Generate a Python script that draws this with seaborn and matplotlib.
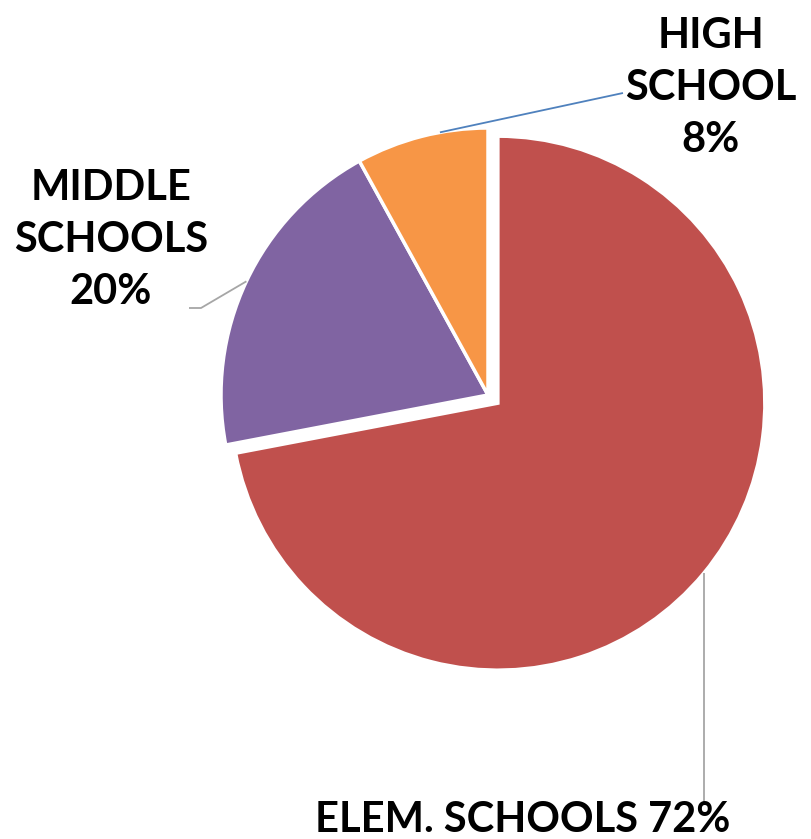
import numpy as np
import matplotlib
matplotlib.use("Agg")
import matplotlib.pyplot as plt
import seaborn as sns

# ---- data ----
categories = ["ELEM. SCHOOLS", "MIDDLE SCHOOLS", "HIGH SCHOOL"]
label_text = ["ELEM. SCHOOLS 72%", "MIDDLE\nSCHOOLS\n20%", "HIGH\nSCHOOL\n8%"]
values = [72, 20, 8]
colors = ["#C0504D", "#8064A2", "#F79646"]
leader_colors = ["#A6A6A6", "#A6A6A6", "#4F81BD"]

sns.set_theme(style="white")
plt.rcParams["font.family"] = ["Lato", "DejaVu Sans"]

W, H, DPI = 811, 839, 100
fig = plt.figure(figsize=(W / DPI, H / DPI), dpi=DPI)
ax = fig.add_axes([0, 0, 1, 1])

R_PX = 267.0
CX, CY = 488.0, 395.0


def px(x, y):
    return ((x - CX) / R_PX, (CY - y) / R_PX)


explode = [0.048, 0, 0]
wedges, _ = ax.pie(values, colors=sns.color_palette(colors), startangle=90,
                   counterclock=False, explode=explode, radius=1.0,
                   wedgeprops=dict(edgecolor="white", linewidth=2.5))

ax.set_xlim(px(0, 0)[0], px(W, 0)[0])
ax.set_ylim(px(0, H)[1], px(0, 0)[1])
ax.set_aspect("auto")
ax.axis("off")

# label placement (pixel positions of text centres and leader path ends)
text_pos = [px(523, 820), px(111, 240), px(711, 88)]
anchor_frac = [0.5, 0.5, 0.36]  # where along each wedge arc the leader starts
for i, w in enumerate(wedges):
    ang = np.deg2rad(w.theta1 + (w.theta2 - w.theta1) * anchor_frac[i])
    cx, cy = w.center
    start = (cx + np.cos(ang), cy + np.sin(ang))
    if i == 0:
        pts = [start, (start[0], px(0, 805)[1])]
    elif i == 1:
        pts = [start, px(201, 308), px(189, 308)]
    else:
        pts = [start, px(623, 93)]
    xs, ys = zip(*pts)
    ax.plot(xs, ys, color=leader_colors[i], lw=1.3, zorder=1, solid_capstyle="butt")
    ax.text(*text_pos[i], label_text[i], ha="center", va="center",
            fontsize=30, fontweight="bold", color="black", linespacing=1.45, zorder=3)

fig.savefig("out.png", dpi=DPI, facecolor="white")
